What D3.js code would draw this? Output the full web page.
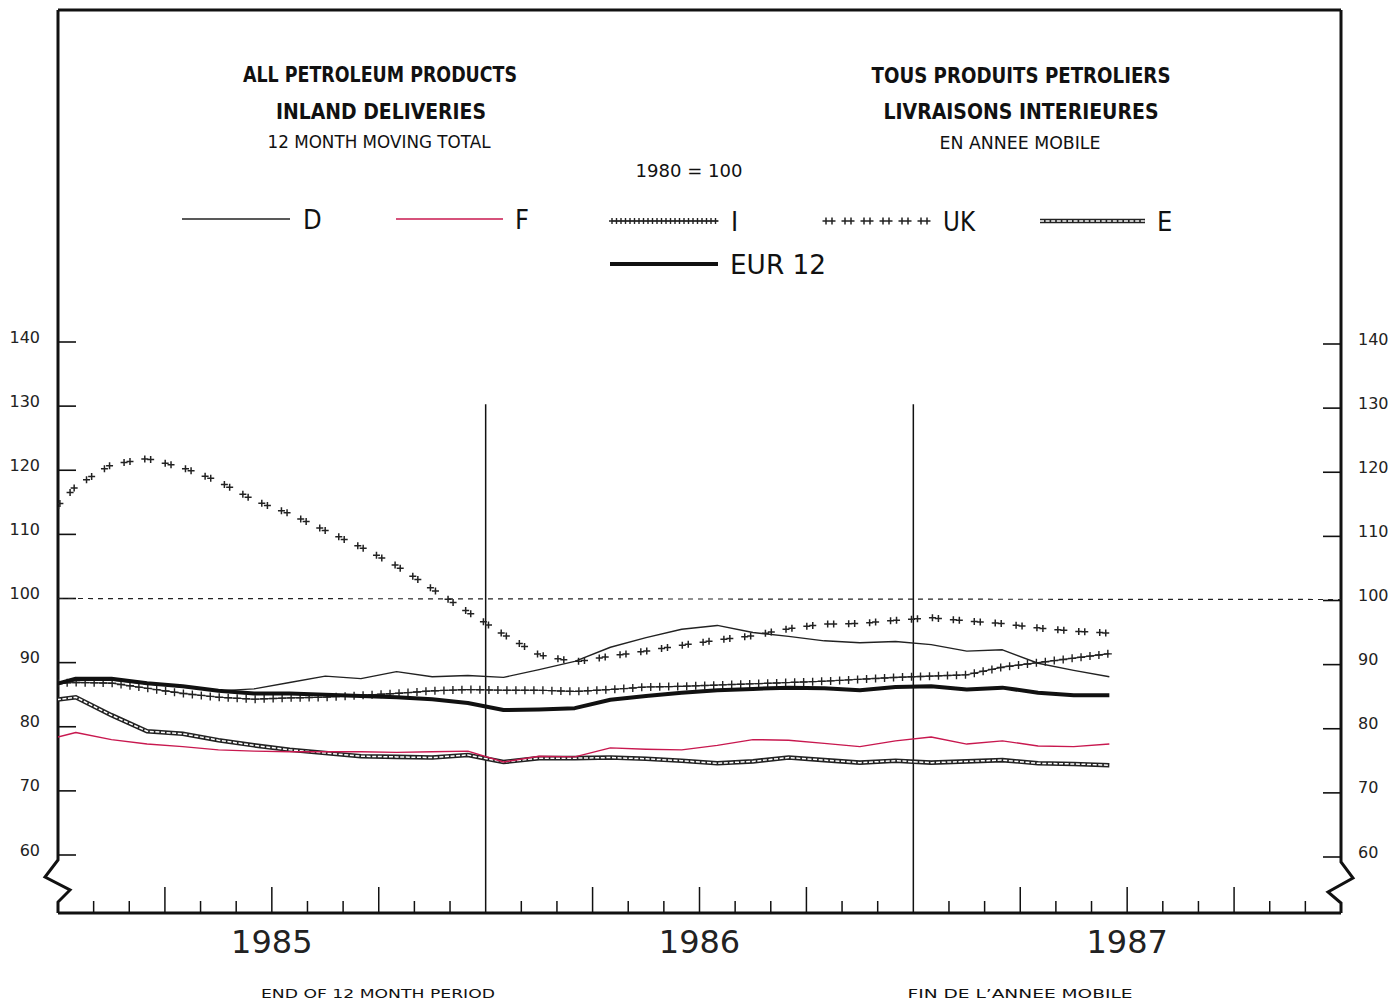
<!DOCTYPE html>
<html><head><meta charset="utf-8">
<script src="https://cdn.jsdelivr.net/npm/d3@7/dist/d3.min.js"></script>
<style>body{margin:0;background:#fff}svg{display:block}</style>
</head><body><svg id="c" width="1394" height="1002"></svg>
<script>
// ---------- DATA ----------
const months = ["1984-12",
 "1985-01","1985-02","1985-03","1985-04","1985-05","1985-06","1985-07","1985-08","1985-09","1985-10","1985-11","1985-12",
 "1986-01","1986-02","1986-03","1986-04","1986-05","1986-06","1986-07","1986-08","1986-09","1986-10","1986-11","1986-12",
 "1987-01","1987-02","1987-03","1987-04","1987-05","1987-06"];
const seriesD  = [86.0,87.2,87.3,86.7,86.2,85.6,85.9,86.9,87.9,87.5,88.6,87.8,88.0,87.7,88.9,90.2,92.4,93.9,95.2,95.8,94.7,94.1,93.4,93.1,93.3,92.8,91.8,92.0,89.9,88.8,87.8];
const seriesF  = [77.7,79.1,78.0,77.3,76.9,76.4,76.2,76.1,76.1,76.1,76.0,76.1,76.2,74.5,75.4,75.3,76.7,76.5,76.4,77.1,78.0,77.9,77.4,76.9,77.8,78.4,77.3,77.8,77.0,76.9,77.3];
const seriesI  = [86.7,86.9,86.8,86.0,85.2,84.6,84.3,84.5,84.6,84.9,85.2,85.6,85.8,85.7,85.7,85.5,85.8,86.2,86.3,86.5,86.7,86.9,87.1,87.4,87.7,87.9,88.1,89.3,90.0,90.7,91.4];
const seriesUK = [111.5,117.5,120.9,121.8,120.4,118.3,115.3,113.2,110.6,108.0,105.1,101.5,97.9,94.4,91.2,90.1,91.0,91.8,92.7,93.5,94.2,95.3,96.0,96.1,96.6,97.0,96.5,96.1,95.4,94.9,94.6];
const seriesE  = [83.9,84.6,81.8,79.3,78.9,77.9,77.1,76.4,75.9,75.4,75.3,75.2,75.6,74.5,75.1,75.1,75.2,75.0,74.7,74.3,74.6,75.2,74.8,74.4,74.7,74.4,74.6,74.8,74.3,74.2,74.0];
const seriesEUR= [86.0,87.5,87.5,86.8,86.3,85.6,85.2,85.2,85.0,84.8,84.6,84.3,83.7,82.6,82.7,82.9,84.2,84.8,85.3,85.7,85.9,86.1,86.0,85.7,86.2,86.3,85.8,86.1,85.3,84.9,84.9];
const yTicks = [60,70,80,90,100,110,120,130,140];
const yearLabels = ["1985","1986","1987"];
const legendKeys = ["D","F","I","UK","E","EUR 12"];

// ---------- SETUP ----------
const svg = d3.select("#c");
const FONT = "'DejaVu Sans', sans-serif";
const NARROW = "'Liberation Sans Narrow','DejaVu Sans Condensed','Liberation Sans',sans-serif";
const x = d3.scaleLinear().domain([0, 36]).range([58, 1341]);
const y = d3.scaleLinear().domain([60, 140]).range([855, 342]);
const yTop = 10, yBottom = 913;
const x0 = x.range()[0], x1 = x.range()[1];
const mIdx = s => { const [yy, mm] = s.split("-").map(Number); return (yy - 1985) * 12 + mm - 1; };
const line = d3.line().x((d, i) => x(mIdx(months[i]) + 0.5)).y(d => y(d));

svg.append("defs").append("clipPath").attr("id", "plot")
  .append("rect").attr("x", x0).attr("y", yTop).attr("width", x1 - x0).attr("height", yBottom - yTop);

// ---------- FRAME ----------
const frame = svg.append("g").attr("fill", "none").attr("stroke", "#111").attr("stroke-width", 3);
frame.append("line").attr("x1", x0).attr("x2", x1).attr("y1", yTop).attr("y2", yTop);
frame.append("line").attr("x1", x0).attr("x2", x1).attr("y1", yBottom).attr("y2", yBottom);
const yb = y(60);
frame.append("path").attr("stroke-linejoin", "miter")
  .attr("d", `M${x0},${yTop}V${yb + 5}L${x0 - 13},${yb + 22}L${x0 + 12},${yb + 35}L${x0},${yb + 47}V${yBottom}`);
frame.append("path").attr("stroke-linejoin", "miter")
  .attr("d", `M${x1},${yTop}V${yb + 7}L${x1 + 12},${yb + 23}L${x1 - 13},${yb + 37}L${x1},${yb + 48}V${yBottom}`);

// y ticks + labels
const yg = svg.append("g");
yTicks.forEach(v => {
  yg.append("line").attr("x1", x0).attr("x2", x0 + 18).attr("y1", y(v)).attr("y2", y(v)).attr("stroke", "#111").attr("stroke-width", 1.6);
  yg.append("line").attr("x1", x1 - 18).attr("x2", x1).attr("y1", y(v) + 2).attr("y2", y(v) + 2).attr("stroke", "#111").attr("stroke-width", 1.6);
  yg.append("text").attr("x", 40).attr("y", y(v) - 5).attr("text-anchor", "end").attr("dominant-baseline", "central")
    .attr("font-family", FONT).attr("font-size", 16).attr("fill", "#222").text(v);
  yg.append("text").attr("x", 1358).attr("y", y(v) - 3).attr("text-anchor", "start").attr("dominant-baseline", "central")
    .attr("font-family", FONT).attr("font-size", 16).attr("fill", "#222").text(v);
});

// x ticks
const xg = svg.append("g").attr("stroke", "#111").attr("stroke-width", 1.5);
d3.range(1, 36).forEach(m => {
  if (m % 12 === 0) {
    xg.append("line").attr("x1", x(m)).attr("x2", x(m)).attr("y1", y(130.3)).attr("y2", yBottom);
  } else {
    const h = (m % 3 === 0) ? 26 : 12;
    xg.append("line").attr("x1", x(m)).attr("x2", x(m)).attr("y1", yBottom - h).attr("y2", yBottom);
  }
});
yearLabels.forEach((t, i) => {
  svg.append("text").attr("x", x(i * 12 + 6)).attr("y", 942).attr("text-anchor", "middle").attr("dominant-baseline", "central")
    .attr("font-family", FONT).attr("font-size", 32).attr("fill", "#222").text(t);
});

// reference line 100
svg.append("line").attr("x1", x0).attr("x2", x1).attr("y1", y(100)).attr("y2", y(100) + 1)
  .attr("stroke", "#222").attr("stroke-width", 1.2).attr("stroke-dasharray", "5,5");

// ---------- SERIES ----------
const plot = svg.append("g").attr("clip-path", "url(#plot)");

function crosses(pts, a) {
  return pts.map(p => `M${p.x - a},${p.y}h${2 * a}M${p.x},${p.y - a}v${2 * a}`).join("");
}
function drawPlain(g, d, color, w) {
  g.append("path").attr("d", d).attr("fill", "none").attr("stroke", color).attr("stroke-width", w).attr("stroke-linejoin", "round");
}
function drawE(g, d) {
  g.append("path").attr("d", d).attr("fill", "none").attr("stroke", "#222").attr("stroke-width", 4.6);
  g.append("path").attr("d", d).attr("fill", "none").attr("stroke", "#fff").attr("stroke-width", 1.5).attr("stroke-dasharray", "4,1.6");
}
function drawI(g, d, step, arm) {
  const p = g.append("path").attr("d", d).attr("fill", "none").attr("stroke", "#222").attr("stroke-width", 1.1);
  const node = p.node(), L = node.getTotalLength(), pts = [];
  for (let s = 0; s <= L; s += step) pts.push(node.getPointAtLength(s));
  g.append("path").attr("d", crosses(pts, arm)).attr("fill", "none").attr("stroke", "#222").attr("stroke-width", 1.4);
}
function drawUK(g, d, step) {
  const p = g.append("path").attr("d", d).attr("fill", "none").attr("stroke", "none");
  const node = p.node(), L = node.getTotalLength(), pts = [];
  for (let s = 2; s <= L; s += step) {
    pts.push(node.getPointAtLength(s));
    if (s + 6 <= L) pts.push(node.getPointAtLength(s + 6));
  }
  g.append("path").attr("d", crosses(pts, 3.5)).attr("fill", "none").attr("stroke", "#222").attr("stroke-width", 1.5);
}

drawE(plot, line(seriesE));
drawPlain(plot, line(seriesF), "#c8184f", 1.4);
drawPlain(plot, line(seriesD), "#222", 1.4);
drawI(plot, line(seriesI), 9, 4);
drawUK(plot, line(seriesUK), 21);
drawPlain(plot, line(seriesEUR), "#111", 4);

// ---------- LEGEND ----------
const lg = svg.append("g");
const legendPos = [
  {x1: 182, x2: 290, y: 219, tx: 303},
  {x1: 396, x2: 503, y: 219, tx: 515},
  {x1: 612, x2: 718, y: 221, tx: 731},
  {x1: 824, x2: 927, y: 221, tx: 943},
  {x1: 1040, x2: 1145, y: 221, tx: 1157},
  {x1: 610, x2: 718, y: 264, tx: 730}
];
legendKeys.forEach((k, i) => {
  const p = legendPos[i];
  const d = `M${p.x1},${p.y}L${p.x2},${p.y}`;
  if (k === "D") drawPlain(lg, d, "#222", 1.4);
  else if (k === "F") drawPlain(lg, d, "#c8184f", 1.4);
  else if (k === "I") drawI(lg, d, 4.5, 3);
  else if (k === "UK") drawUK(lg, d, 19);
  else if (k === "E") drawE(lg, d);
  else drawPlain(lg, d, "#111", 4);
  const t = lg.append("text").attr("x", p.tx).attr("y", p.y).attr("dominant-baseline", "central")
    .attr("font-family", NARROW).attr("font-size", 27).attr("fill", "#111").text(k);
  if (k === "EUR 12") t.attr("textLength", 96).attr("lengthAdjust", "spacingAndGlyphs");
  if (k === "UK") t.attr("textLength", 32).attr("lengthAdjust", "spacingAndGlyphs");
});

// ---------- TITLES ----------
function txt(s, cx, cy, size, weight, len, fam) {
  svg.append("text").attr("x", cx).attr("y", cy).attr("text-anchor", "middle").attr("dominant-baseline", "central")
    .attr("font-family", fam || NARROW).attr("font-size", size).attr("font-weight", weight).attr("fill", "#111")
    .attr("textLength", len).attr("lengthAdjust", "spacingAndGlyphs").text(s);
}
txt("ALL PETROLEUM PRODUCTS", 380, 75, 21, "bold", 274);
txt("INLAND DELIVERIES", 381, 112, 21, "bold", 210);
txt("12 MONTH MOVING TOTAL", 379, 142, 17, "normal", 223, FONT);
txt("TOUS PRODUITS PETROLIERS", 1021, 76, 21, "bold", 299);
txt("LIVRAISONS INTERIEURES", 1021, 112, 21, "bold", 275);
txt("EN ANNEE MOBILE", 1020, 143, 17, "normal", 161, FONT);
txt("1980 = 100", 689, 171, 17, "normal", 107, FONT);
txt("END OF 12 MONTH PERIOD", 378, 993, 13, "normal", 234, FONT);
txt("FIN DE L\u2019ANNEE MOBILE", 1020, 993, 13, "normal", 225, FONT);
</script></body></html>
